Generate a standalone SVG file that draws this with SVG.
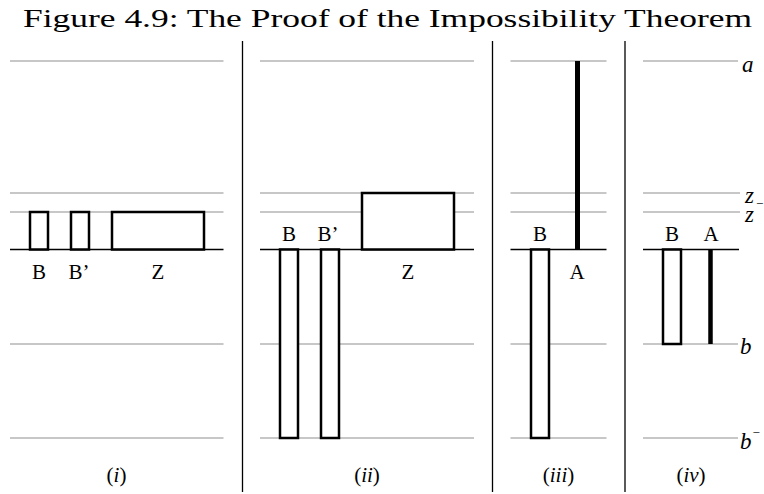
<svg xmlns="http://www.w3.org/2000/svg" width="764" height="494" viewBox="0 0 764 494">
<style>
.grid{stroke:#b5b5b5;stroke-width:1.4;fill:none}
.axis{stroke:#000;stroke-width:1.5;fill:none}
.sep{stroke:#000;stroke-width:1.3;fill:none}
.box{stroke:#000;stroke-width:2.5;fill:#fff}
.bar{stroke:#000;stroke-width:5;fill:none}
</style>
<rect width="764" height="494" fill="#fff"/>
<text x="23" y="27" font-family="'Liberation Serif', serif" font-size="26" fill="#000" textLength="729" lengthAdjust="spacingAndGlyphs">Figure 4.9: The Proof of the Impossibility Theorem</text>

<g id="separators">
<line class="sep" x1="242.5" y1="41" x2="242.5" y2="492"/>
<line class="sep" x1="492.5" y1="41" x2="492.5" y2="492"/>
<line class="sep" x1="625" y1="41" x2="625" y2="492"/>
</g>

<g id="connectors">
<g id="guides-i">
<line class="grid" x1="10" y1="61" x2="223.5" y2="61"/>
<line class="grid" x1="10" y1="193" x2="223.5" y2="193"/>
<line class="grid" x1="10" y1="212" x2="223.5" y2="212"/>
<line class="grid" x1="10" y1="344" x2="223.5" y2="344"/>
<line class="grid" x1="10" y1="438" x2="223.5" y2="438"/>
<line class="axis" x1="10" y1="249.5" x2="223.5" y2="249.5"/>
</g>
<g id="guides-ii">
<line class="grid" x1="260" y1="61" x2="474" y2="61"/>
<line class="grid" x1="260" y1="193" x2="474" y2="193"/>
<line class="grid" x1="260" y1="212" x2="474" y2="212"/>
<line class="grid" x1="260" y1="344" x2="474" y2="344"/>
<line class="grid" x1="260" y1="438" x2="474" y2="438"/>
<line class="axis" x1="260" y1="249.5" x2="474" y2="249.5"/>
</g>
<g id="guides-iii">
<line class="grid" x1="510.5" y1="61" x2="606.5" y2="61"/>
<line class="grid" x1="510.5" y1="193" x2="606.5" y2="193"/>
<line class="grid" x1="510.5" y1="212" x2="606.5" y2="212"/>
<line class="grid" x1="510.5" y1="344" x2="606.5" y2="344"/>
<line class="grid" x1="510.5" y1="438" x2="606.5" y2="438"/>
<line class="axis" x1="510.5" y1="249.5" x2="606.5" y2="249.5"/>
</g>
<g id="guides-iv">
<line class="grid" x1="643" y1="61" x2="738" y2="61"/>
<line class="grid" x1="643" y1="193" x2="740" y2="193"/>
<line class="grid" x1="643" y1="212" x2="740" y2="212"/>
<line class="grid" x1="643" y1="344" x2="738" y2="344"/>
<line class="grid" x1="643" y1="438" x2="738" y2="438"/>
<line class="axis" x1="643" y1="249.5" x2="739" y2="249.5"/>
</g>
</g>

<g font-family="'Liberation Serif', serif" font-size="21" fill="#000" text-anchor="middle">
<g id="panel-i">
<g id="i-B"><rect class="box" x="30" y="212" width="18" height="37.5"/><text x="39" y="279">B</text></g>
<g id="i-Bp"><rect class="box" x="71" y="212" width="18" height="37.5"/><text x="79" y="279">B’</text></g>
<g id="i-Z"><rect class="box" x="112" y="212" width="92" height="37.5"/><text x="158" y="279">Z</text></g>
<text x="116.5" y="482">(<tspan font-style="italic">i</tspan>)</text>
</g>

<g id="panel-ii">
<g id="ii-B"><rect class="box" x="280" y="249.5" width="18" height="188.5"/><text x="289" y="241">B</text></g>
<g id="ii-Bp"><rect class="box" x="321" y="249.5" width="18" height="188.5"/><text x="328" y="241">B’</text></g>
<g id="ii-Z"><rect class="box" x="362" y="193" width="92" height="56.5"/><text x="408" y="279">Z</text></g>
<text x="367" y="482">(<tspan font-style="italic">ii</tspan>)</text>
</g>

<g id="panel-iii">
<g id="iii-B"><rect class="box" x="531" y="249.5" width="18" height="188.5"/><text x="540" y="241">B</text></g>
<g id="iii-A"><line class="bar" x1="577.5" y1="61" x2="577.5" y2="249.5"/><text x="577" y="279">A</text></g>
<text x="558.5" y="482">(<tspan font-style="italic">iii</tspan>)</text>
</g>

<g id="panel-iv">
<g id="iv-B"><rect class="box" x="663" y="249.5" width="18" height="94.5"/><text x="672" y="241">B</text></g>
<g id="iv-A"><line class="bar" x1="710.5" y1="249.5" x2="710.5" y2="344" stroke-width="4.5" style="stroke-width:4.5"/><text x="711" y="241">A</text></g>
<text x="691" y="482">(<tspan font-style="italic">iv</tspan>)</text>
</g>
</g>

<g id="level-labels" font-family="'Liberation Serif', serif" font-size="23" font-style="italic" fill="#000">
<text x="742" y="72">a</text>
<text x="745" y="203">z</text>
<text x="745" y="221.5">z<tspan font-style="normal" font-size="13" dx="2" dy="-14">−</tspan></text>
<text x="740" y="354">b</text>
<text x="740" y="449">b<tspan font-style="normal" font-size="13" dx="1" dy="-12">−</tspan></text>
</g>
</svg>
